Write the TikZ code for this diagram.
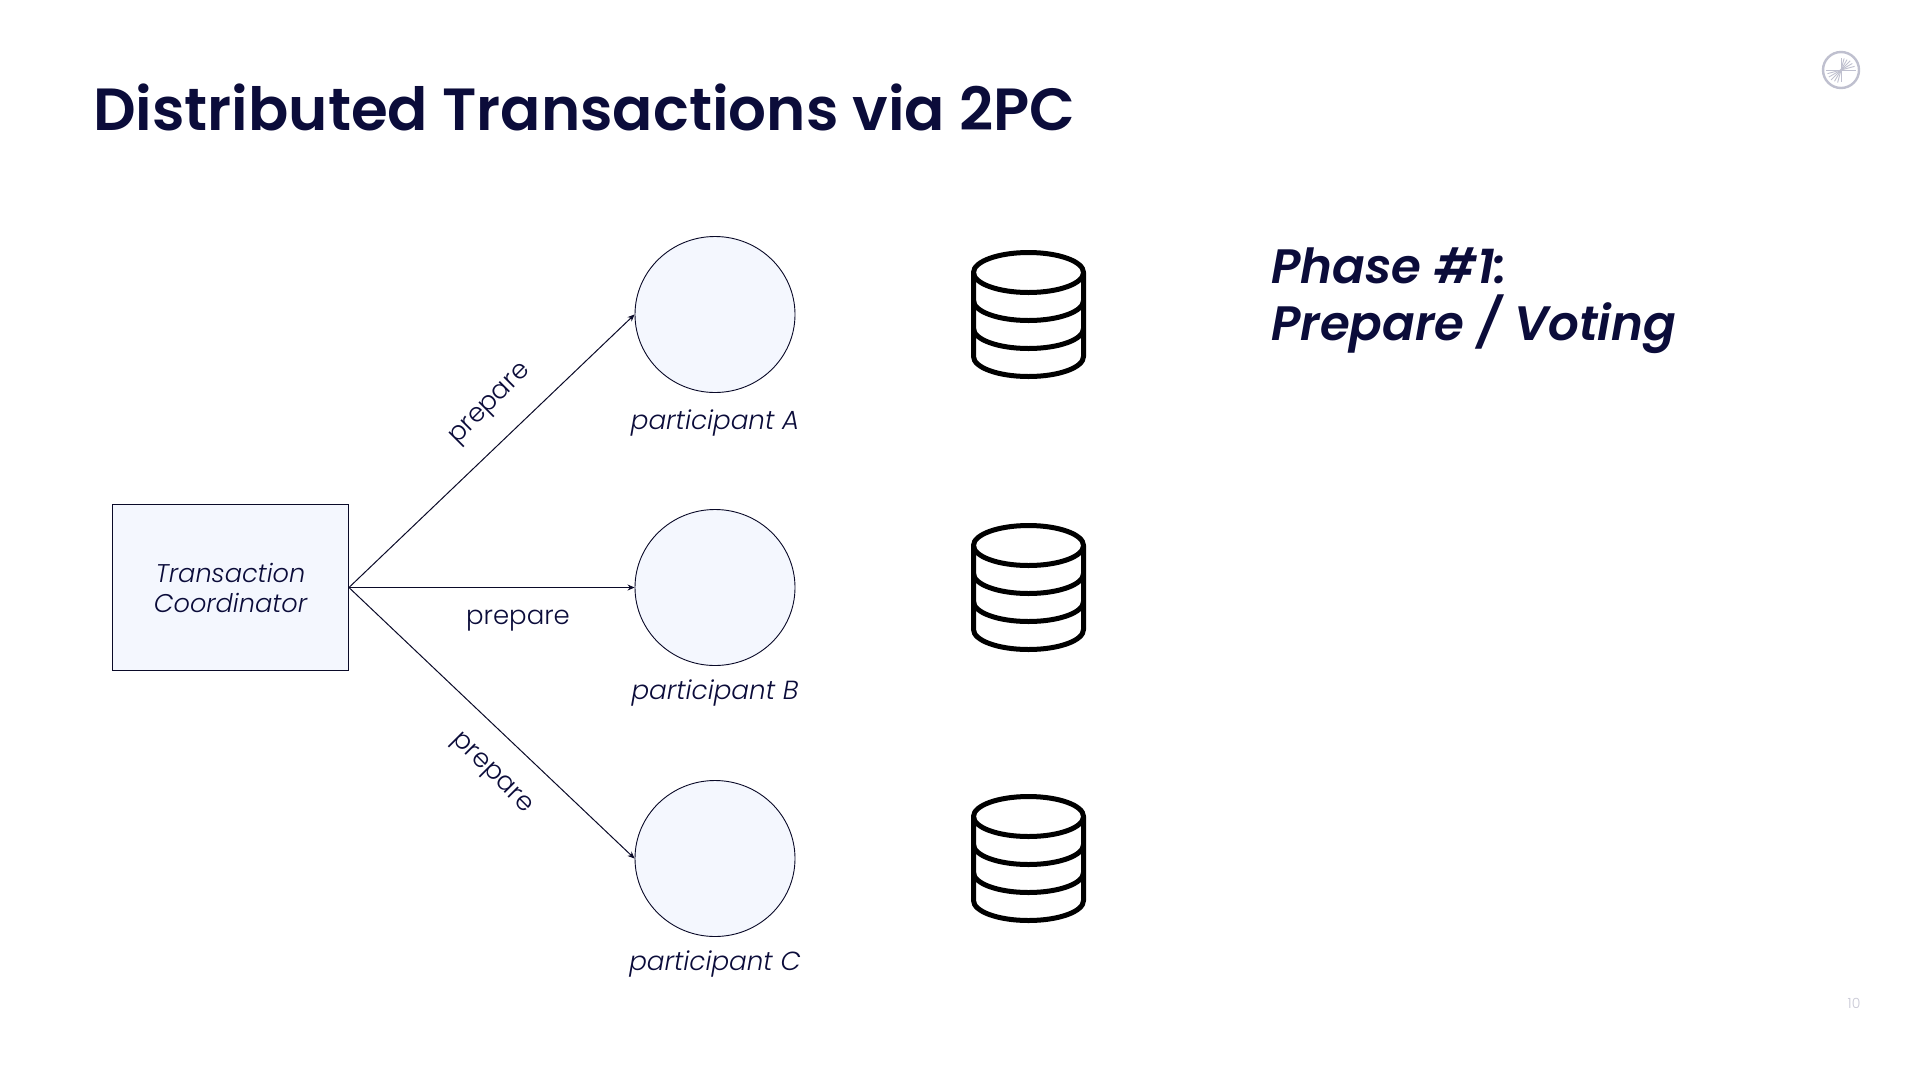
\documentclass[tikz,border=0pt]{standalone}
\usepackage{fontspec}
\setmainfont{Poppins}
\newfontfamily\semi{Poppins SemiBold}[ItalicFont={Poppins SemiBold Italic}]
\newfontfamily\lighter{Poppins Light}[ItalicFont={Poppins Light Italic}]
\usetikzlibrary{shapes.geometric,arrows.meta}
\definecolor{ink}{HTML}{0B0C3A}
\definecolor{edge}{HTML}{0A0A28}
\definecolor{pale}{HTML}{F4F7FE}
\definecolor{logo}{HTML}{BFC0CF}
\tikzset{
  boxed/.style={draw=edge,line width=0.9pt,fill=pale,inner sep=0pt},
  partic/.style={boxed,ellipse,minimum width=160pt,minimum height=156pt},
  coord/.style={boxed,rectangle,minimum width=236pt,minimum height=166pt,align=center,text=ink,font=\lighter\itshape\fontsize{25.6}{30}\selectfont},
  msg/.style={draw=edge,line width=1pt,-{Stealth[length=7pt,width=6pt]}},
  lab/.style={text=ink,font=\lighter\fontsize{26}{30}\selectfont,inner sep=0pt},
  plab/.style={text=ink,font=\lighter\itshape\fontsize{26.2}{30}\selectfont,inner sep=0pt},
  dbline/.style={draw=black,line width=5pt,line cap=round,line join=round}
}
\newcommand{\dbicon}[2]{%
  \begin{scope}[shift={(#1,#2)}]
    \draw[dbline] (-55,0) arc[x radius=55,y radius=20,start angle=180,end angle=-180];
    \draw[dbline] (-55,0) -- (-55,84) arc[x radius=55,y radius=20,start angle=180,end angle=0] -- (55,0);
    \draw[dbline] (-55,28) arc[x radius=55,y radius=20,start angle=180,end angle=0];
    \draw[dbline] (-55,56) arc[x radius=55,y radius=20,start angle=180,end angle=0];
  \end{scope}}
\begin{document}
\begin{tikzpicture}[x=1pt,y=-1pt]
\useasboundingbox (0,0) rectangle (1920,1080);
\fill[white] (0,0) rectangle (1920,1080);
\node[anchor=west,text=ink,inner sep=0pt,font=\semi\fontsize{59.5}{70}\selectfont] (title) at (93,107) {Distributed Transactions via 2PC};
\node[coord] (tc) at (230.5,587.5) {Transaction\\Coordinator};
\node[partic] (a) at (715,314.5) {};
\node[partic] (b) at (715,587.5) {};
\node[partic] (c) at (715,858.5) {};
\draw[msg] (tc.east) -- (a.west);
\draw[msg] (tc.east) -- (b.west);
\draw[msg] (tc.east) -- (c.west);
\node[lab,rotate=45] (la) at (491,405.5) {prepare};
\node[lab] (lb) at (518,621) {prepare};
\node[lab,rotate=-45] (lc) at (491,774) {prepare};
\node[plab] (pa) at (715,423) {participant A};
\node[plab] (pb) at (715,693.5) {participant B};
\node[plab] (pc) at (715,964) {participant C};
\dbicon{1028.5}{272.5}
\dbicon{1028.5}{545.5}
\dbicon{1028.5}{816.5}
\node[anchor=north west,text=ink,inner sep=0pt,align=left,font=\semi\itshape\fontsize{48.3}{57}\selectfont] (phase) at (1271,248) {Phase \#1:\\Prepare / Voting};
\node[draw=logo,circle,line width=2.4pt,minimum size=36pt,inner sep=0pt] (logo) at (1841,70) {};
\foreach \ang/\len in {180/15,165/14,150/14,135/14,120/13,105/13,90/12,0/15,-15/14,-30/13,-45/13,-60/12,-75/12,-90/12}
  \draw[logo,line width=0.9pt] (logo.center) -- ++(\ang:\len);
\node[text=logo!85,inner sep=0pt,font=\lighter\fontsize{14}{16}\selectfont] (num) at (1854,1003) {10};
\end{tikzpicture}
\end{document}
